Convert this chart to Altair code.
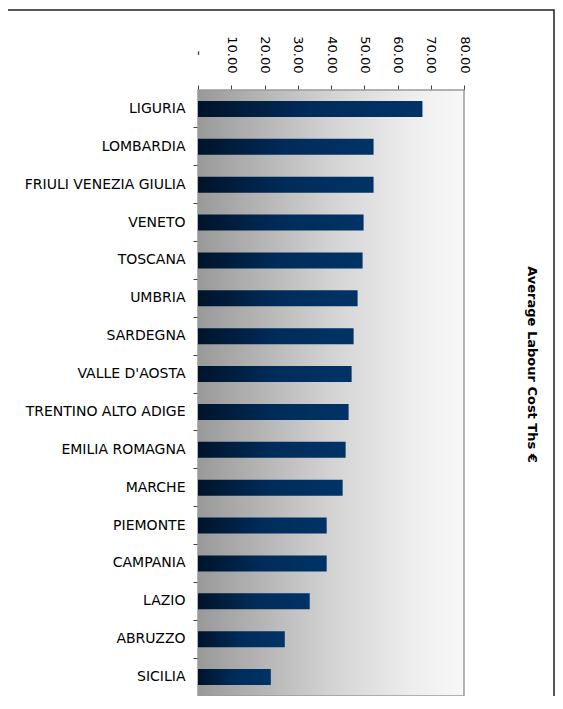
import altair as alt
import pandas as pd

regions = ["LIGURIA", "LOMBARDIA", "FRIULI VENEZIA GIULIA", "VENETO", "TOSCANA",
           "UMBRIA", "SARDEGNA", "VALLE D'AOSTA", "TRENTINO ALTO ADIGE",
           "EMILIA ROMAGNA", "MARCHE", "PIEMONTE", "CAMPANIA", "LAZIO",
           "ABRUZZO", "SICILIA"]
cost = [67.5, 52.8, 52.8, 49.8, 49.5, 48.0, 46.8, 46.2, 45.3, 44.4, 43.5,
        38.7, 38.7, 33.6, 26.1, 21.9]
x_ticks = [0, 10, 20, 30, 40, 50, 60, 70, 80]
axis_title = "Average Labour Cost Ths €"

W, H = 266, 606
FONT = "DejaVu Sans"

df = pd.DataFrame({"region": regions, "cost": cost})

bg_gradient = {
    "gradient": "linear", "x1": 0, "x2": 1, "y1": 0, "y2": 0,
    "stops": [
        {"offset": 0, "color": "#999999"},
        {"offset": 0.5, "color": "#d3d3d3"},
        {"offset": 0.8, "color": "#ededed"},
        {"offset": 1, "color": "#f8f8f8"},
    ],
}
bar_gradient = {
    "gradient": "linear", "x1": 0, "x2": 1, "y1": 0, "y2": 0,
    "stops": [
        {"offset": 0, "color": "#00132a"},
        {"offset": 0.5, "color": "#002c5a"},
        {"offset": 1, "color": "#003366"},
    ],
}

frame = alt.Chart(alt.Data(values=[{}])).mark_rect(
    fill="transparent", stroke="#222222", strokeWidth=1.5
).encode(x=alt.value(-250), x2=alt.value(356), y=alt.value(-80), y2=alt.value(760))

bg = alt.Chart(alt.Data(values=[{}])).mark_rect(
    fill=bg_gradient, stroke="#9a9a9a", strokeWidth=1.5
).encode(x=alt.value(0), x2=alt.value(W), y=alt.value(0), y2=alt.value(H))

bars = alt.Chart(df).mark_bar(size=16, fill=bar_gradient).encode(
    x=alt.X("cost:Q",
            scale=alt.Scale(domain=[0, 80], nice=False, zero=True),
            axis=alt.Axis(orient="top", values=x_ticks, labelAngle=90,
                          labelExpr="datum.value == 0 ? '-' : format(datum.value, '.2f')",
                          title=None, grid=False, tickSize=5,
                          labelPadding={"condition": {"test": "datum.value == 0", "value": 30},
                                        "value": 12},
                          labelFontSize=13)),
    y=alt.Y("region:N", sort=regions,
            scale=alt.Scale(paddingInner=0, paddingOuter=0),
            axis=alt.Axis(title=None, bandPosition=1, tickSize=5, labelPadding=8,
                          labelFontSize=14)),
)

ttl = alt.Chart(alt.Data(values=[{"t": axis_title}])).mark_text(
    angle=90, font=FONT, fontSize=13, fontWeight="bold", align="center",
    baseline="middle", color="black"
).encode(text="t:N", x=alt.value(334), y=alt.value(274.5))

chart = alt.layer(frame, bg, bars, ttl).properties(
    width=W, height=H,
    autosize=alt.AutoSizeParams(type="none"),
    padding={"left": 190, "top": 82, "right": 91, "bottom": 0},
).configure_view(stroke=None).configure_axis(
    labelFont=FONT, labelColor="black", domainColor="#404040",
    tickColor="#404040", zindex=1
)

chart.save("out.html", embed_options={"renderer": "svg", "actions": False})
